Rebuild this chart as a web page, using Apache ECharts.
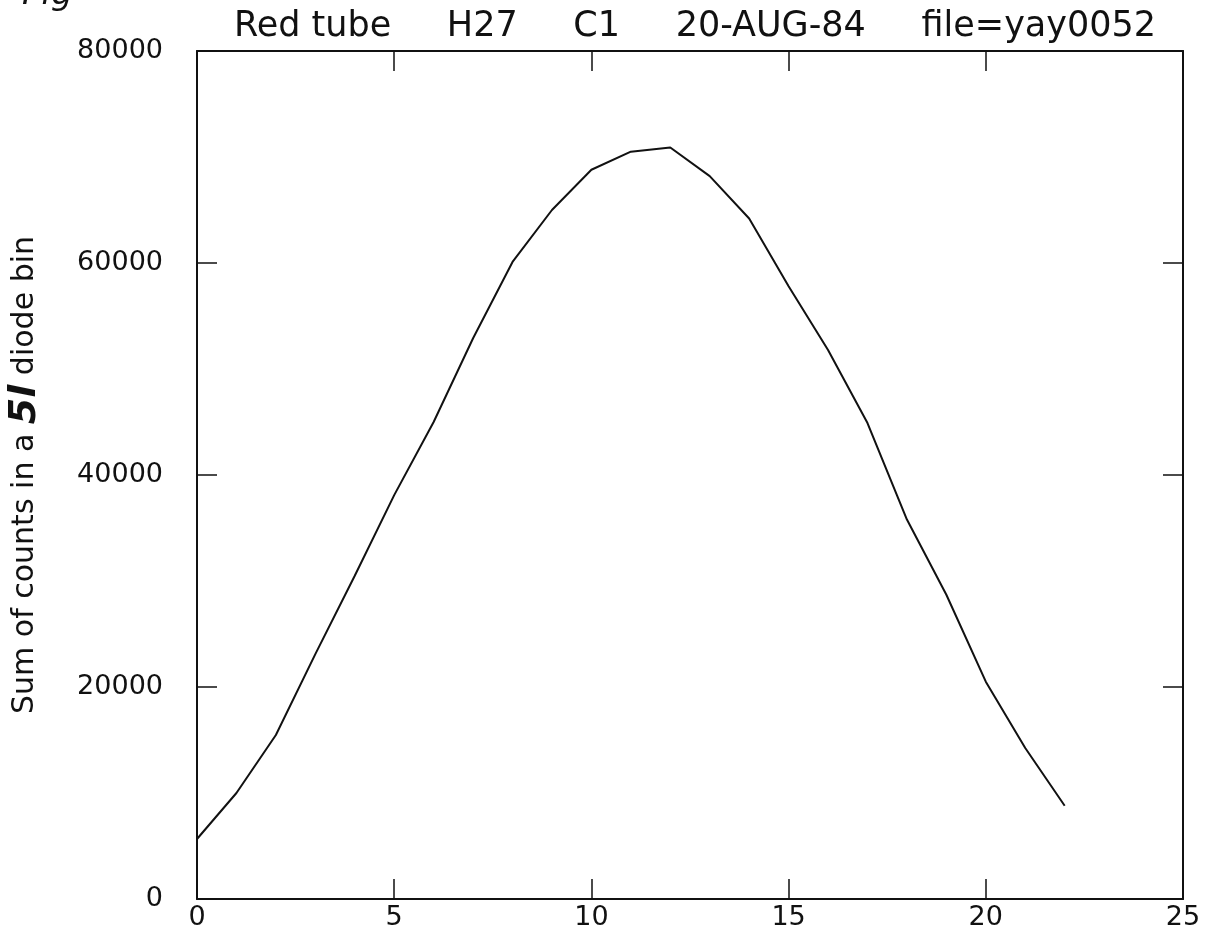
<!DOCTYPE html>
<html>
<head>
<meta charset="utf-8">
<title>Red tube H27 C1</title>
<script src="https://cdn.jsdelivr.net/npm/echarts@6/dist/echarts.min.js"></script>
<style>
    html, body { margin: 0; padding: 0; background: #fff; }
    #chart { width: 1216px; height: 932px; }
</style>
</head>
<body>
<div id="chart"></div>
<script>
// diode bin index and summed counts
var bins = [0, 1, 2, 3, 4, 5, 6, 7, 8, 9, 10, 11, 12, 13, 14, 15, 16, 17, 18, 19, 20, 21, 22]
var counts = [5660, 10000, 15470, 23100, 30500, 38100, 45000, 52900, 60100, 65000, 68800, 70500,
    70900, 68200, 64200, 57800, 51800, 44900, 35800, 28700, 20500, 14250, 8800]

var xTicks = [0, 5, 10, 15, 20, 25]
var yTicks = [0, 20000, 40000, 60000, 80000]
var titleText = 'Red tube     H27     C1     20-AUG-84     file=yay0052'

var ink = '#111'
var font = 'DejaVu Sans'

var chart = echarts.init(document.getElementById('chart'))

var points = bins.map(function (b, i) {
    return [b, counts[i]]
})

// shared bits for the frame axes
function frameX(pos, showLabel) {
    return {
        type: 'value',
        position: pos,
        min: xTicks[0],
        max: xTicks[xTicks.length - 1],
        interval: 5,
        axisLine: { show: true, onZero: false, lineStyle: { color: ink, width: 2 } },
        axisTick: { show: true, inside: true, length: 20, lineStyle: { color: ink, width: 1.5 } },
        axisLabel: {
            show: showLabel,
            color: ink,
            fontFamily: font,
            fontSize: 27,
            margin: 5
        },
        splitLine: { show: false }
    }
}

function frameY(pos, showLabel) {
    return {
        type: 'value',
        position: pos,
        min: yTicks[0],
        max: yTicks[yTicks.length - 1],
        interval: 20000,
        axisLine: { show: true, onZero: false, lineStyle: { color: ink, width: 2 } },
        axisTick: { show: true, inside: true, length: 20, lineStyle: { color: ink, width: 1.5 } },
        axisLabel: {
            show: showLabel,
            color: ink,
            fontFamily: font,
            fontSize: 27,
            margin: 34,
            formatter: function (v) {
                return String(v)
            }
        },
        splitLine: { show: false }
    }
}

var yLeft = frameY('left', true)
yLeft.name = 'Sum of counts in a {b|5l} diode bin'
yLeft.nameLocation = 'middle'
yLeft.nameGap = 153
yLeft.nameTextStyle = {
    color: ink,
    fontFamily: font,
    fontSize: 30,
    rich: {
        b: {
            fontFamily: font,
            fontSize: 38,
            fontStyle: 'italic',
            fontWeight: 'bold',
            color: ink
        }
    }
}

chart.setOption({
    backgroundColor: '#fff',
    animation: false,
    title: {
        text: titleText,
        left: 690,
        top: 4,
        textAlign: 'center',
        textStyle: {
            color: ink,
            fontFamily: font,
            fontSize: 35,
            fontWeight: 'normal'
        }
    },
    graphic: [
        {
            type: 'text',
            left: 22,
            top: -22,
            style: {
                text: 'Fig',
                font: 'italic 34px "DejaVu Sans"',
                fill: ink
            }
        }
    ],
    grid: {
        left: 197,
        right: 33,
        top: 51,
        bottom: 33,
        containLabel: false,
        outerBoundsMode: 'none'
    },
    xAxis: [frameX('bottom', true), frameX('top', false)],
    yAxis: [yLeft, frameY('right', false)],
    series: [
        {
            type: 'line',
            data: points,
            xAxisIndex: 0,
            yAxisIndex: 0,
            showSymbol: false,
            smooth: false,
            lineStyle: { color: ink, width: 2 }
        }
    ]
})
</script>
</body>
</html>
